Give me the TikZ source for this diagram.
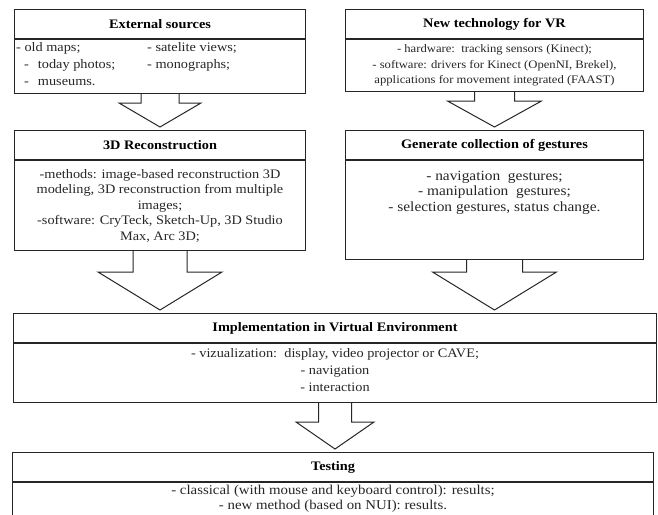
\documentclass[tikz,border=0pt]{standalone}
\usepackage{fontspec}
\setmainfont{Liberation Serif}[FakeStretch=1.1]
\usetikzlibrary{calc}

% big hollow arrow: from body node #1 down to node #2
% #3 = half shaft width, #4 = half head width, #5 = head length
\newcommand{\hollowarrow}[5]{%
  \draw[arrowline] let \p1=(#1.south), \p2=(#2.north) in
    (\x1-#3,\y1) -- (\x1-#3,\y2+3+#5) -- (\x1-#4,\y2+3+#5) -- (\x1,\y2+3)
    -- (\x1+#4,\y2+3+#5) -- (\x1+#3,\y2+3+#5) -- (\x1+#3,\y1);}

\tikzset{
  headbox/.style={draw=black!85, line width=1pt, inner sep=0pt, minimum height=29pt,
    anchor=north west, font=\fontsize{13}{15}\selectfont\bfseries},
  bodybox/.style={draw=black!85, line width=1pt, inner sep=0pt, anchor=north,
    align=center, text=black!85, font=\fontsize{13}{15.5}\selectfont},
  bodytext/.style={inner sep=0pt, text=black!85, font=\fontsize{13}{15.5}\selectfont},
  arrowline/.style={line width=1pt, draw=black!85, line join=miter},
}

\begin{document}
\begin{tikzpicture}[x=1pt, y=-1pt]
  \useasboundingbox (0,0) rectangle (658,514);

  % left column
  \node[headbox, minimum width=291pt] (ext) at (14,9) {External sources};
  \node[bodybox, minimum width=291pt, minimum height=54pt] (ext-b) at (ext.south) {};
  \node[bodytext, anchor=north west, align=left, font=\fontsize{13}{17}\selectfont] (ext-t1) at (16,42)
    {- old maps;\\\hspace*{8pt}-\hspace{9pt}today photos;\\\hspace*{8pt}-\hspace{9pt}museums.};
  \node[bodytext, anchor=north west, align=left, font=\fontsize{13}{17}\selectfont] (ext-t2) at (147,42)
    {- satelite views;\\- monographs;};

  \node[headbox, minimum width=291pt] (recon) at (14,130) {3D Reconstruction};
  \node[bodybox, minimum width=291pt, minimum height=90pt] (recon-b) at (recon.south)
    {-methods: image-based reconstruction 3D\\modeling, 3D reconstruction from multiple\\images;\\-software: CryTeck, Sketch-Up, 3D Studio\\Max, Arc 3D;};

  % right column
  \node[headbox, minimum width=298pt] (tech) at (345,9) {New technology for VR};
  \node[bodybox, minimum width=298pt, minimum height=52pt, font=\fontsize{11.5}{15.5}\selectfont] (tech-b) at (tech.south)
    {- hardware:\ \ tracking sensors (Kinect);\\- software: drivers for Kinect (OpenNI, Brekel),\\applications for movement integrated (FAAST)};

  \node[headbox, minimum width=298pt] (gest) at (345,130) {Generate collection of gestures};
  \node[bodybox, minimum width=298pt, minimum height=99pt] (gest-b) at (gest.south) {};
  \node[bodytext, anchor=north, align=center, font=\fontsize{14}{15.5}\selectfont] (gest-t) at ($(gest-b.north)+(0,11)$)
    {- navigation\ \ gestures;\\- manipulation\ \ gestures;\\- selection gestures, status change.};

  % bottom
  \node[headbox, minimum width=643pt] (impl) at (13,313) {Implementation in Virtual Environment};
  \node[bodybox, minimum width=643pt, minimum height=59pt] (impl-b) at (impl.south) {};
  \node[bodytext, anchor=north, align=center, font=\fontsize{13}{17}\selectfont] (impl-t) at ($(impl-b.north)+(0,5)$)
    {- vizualization:\ \ display, video projector or CAVE;\\- navigation\\- interaction};

  \node[headbox, minimum width=641pt] (test) at (12,452) {Testing};
  \node[bodybox, minimum width=641pt, minimum height=45pt] (test-b) at (test.south) {};
  \node[bodytext, anchor=north, align=center, font=\fontsize{13.5}{15}\selectfont] (test-t) at ($(test-b.north)+(0,3)$)
    {- classical (with mouse and keyboard control): results;\\- new method (based on NUI): results.};

  % arrows
  \hollowarrow{ext-b}{recon}{19}{41}{24}
  \hollowarrow{tech-b}{gest}{20}{47}{26}
  \hollowarrow{recon-b}{impl}{27}{62}{38}
  \hollowarrow{gest-b}{impl}{28}{62}{38}
  \hollowarrow{impl-b}{test}{16.5}{39}{27}

\end{tikzpicture}
\end{document}
